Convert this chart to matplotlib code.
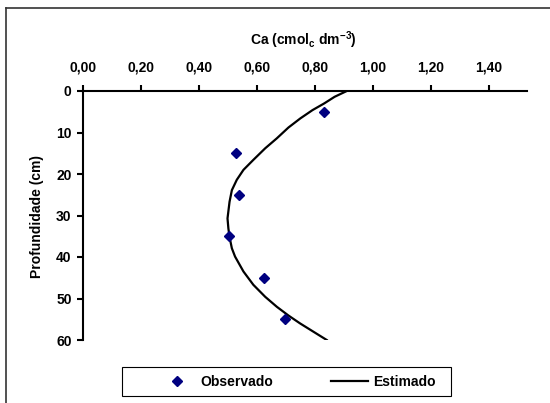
import matplotlib
matplotlib.use("Agg")
import matplotlib.pyplot as plt
from matplotlib.lines import Line2D
from matplotlib.patches import Rectangle

plt.rcParams["font.family"] = ["Liberation Sans", "DejaVu Sans"]
plt.rcParams["font.weight"] = "bold"
plt.rcParams["mathtext.fontset"] = "custom"
plt.rcParams["mathtext.rm"] = "Liberation Sans:bold"
plt.rcParams["mathtext.bf"] = "Liberation Sans:bold"
plt.rcParams["mathtext.default"] = "bf"

# observed Ca by depth
depth_obs = [5, 15, 25, 35, 45, 55]
ca_obs = [0.832, 0.529, 0.538, 0.504, 0.626, 0.697]

# fitted profile
depth_est = [0, 1.4, 3.0, 4.6, 6.6, 8.8, 11.4, 13.8, 16.6, 19.0, 21.4, 23.9,
             26.7, 30.7, 33.1, 35.2, 37.9, 39.9, 43.5, 46.7, 49.6, 52.0, 54.1,
             56.0, 58.0, 60.0]
ca_est = [0.910, 0.868, 0.832, 0.792, 0.750, 0.709, 0.669, 0.629, 0.588, 0.554,
          0.531, 0.514, 0.506, 0.499, 0.502, 0.506, 0.514, 0.525, 0.554, 0.588,
          0.629, 0.669, 0.709, 0.749, 0.795, 0.841]

xticks = [0.0, 0.2, 0.4, 0.6, 0.8, 1.0, 1.2, 1.4]
yticks = [0, 10, 20, 30, 40, 50, 60]

W, H = 550, 403
fig = plt.figure(figsize=(W / 100, H / 100), dpi=100)
ax = fig.add_axes([82.7 / W, 63 / H, 444 / W, 249 / H])

ax.plot(ca_est, depth_est, color="black", lw=1.6, solid_joinstyle="round")
ax.plot(ca_obs, depth_obs, ls="none", marker="D", ms=5.5, color="#000080")

ax.set_xlim(0, 1.53)
ax.set_ylim(60, 0)
ax.xaxis.tick_top()
ax.set_xticks(xticks)
ax.set_xticklabels([f"{v:.2f}".replace(".", ",") for v in xticks])
ax.set_yticks(yticks)
ax.tick_params(direction="out", length=4, width=1.5, labelsize=10)
ax.tick_params(axis="x", pad=8)
ax.tick_params(axis="y", pad=4)
for lbl in ax.get_xticklabels() + ax.get_yticklabels():
    lbl.set_fontweight("bold")
for s in ["right", "bottom"]:
    ax.spines[s].set_visible(False)
for s in ["top", "left"]:
    ax.spines[s].set_linewidth(1.5)

# axis titles placed in figure pixels
fig.text(303 / W, 1 - 40 / H, r"Ca (cmol$_{c}$ dm$^{-3}$)", fontsize=10,
         fontweight="bold", ha="center", va="center")
fig.text(37.5 / W, 1 - 216 / H, "Profundidade (cm)", fontsize=10,
         fontweight="bold", ha="center", va="center", rotation=90)

handles = [
    Line2D([], [], ls="none", marker="D", ms=5.5, color="#000080", label="Observado"),
    Line2D([], [], color="black", lw=1.6, label="Estimado"),
]
fig.legend(handles=handles, ncol=2, loc="center",
           bbox_to_anchor=(297 / W, 1 - 381.5 / H), frameon=False,
           handlelength=2.66, handletextpad=0.35, columnspacing=4.2,
           borderpad=0, prop={"weight": "bold", "size": 10})
fig.add_artist(Rectangle((122 / W, 1 - 396 / H), 329 / W, 29 / H,
                         transform=fig.transFigure, fill=False,
                         edgecolor="black", lw=0.8))

# frame lines along top and left of the figure
fig.add_artist(Line2D([6 / W, 1], [1 - 7.5 / H] * 2, color="#333333", lw=1.2))
fig.add_artist(Line2D([6 / W] * 2, [0, 1 - 7.5 / H], color="#333333", lw=1.2))

fig.savefig("out.png", dpi=100)
